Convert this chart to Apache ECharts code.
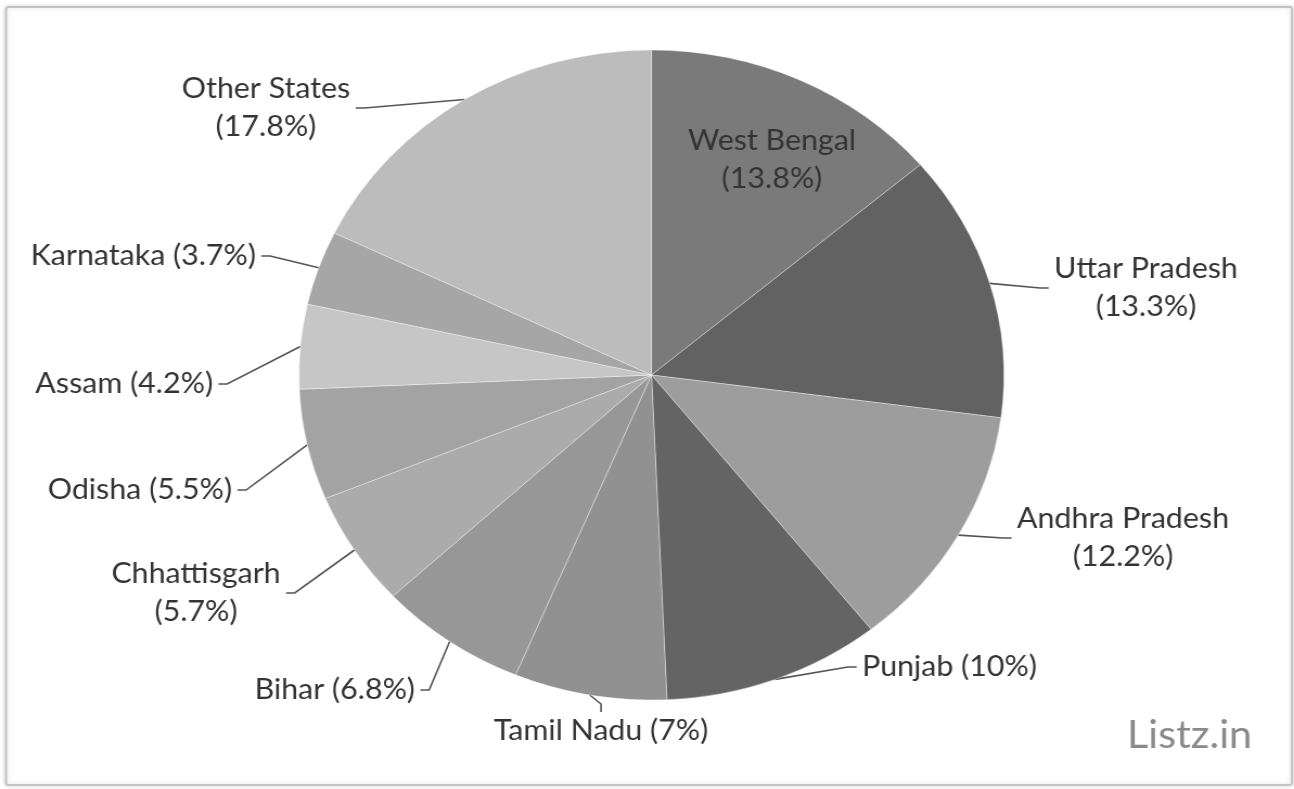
<!DOCTYPE html>
<html>
<head>
<meta charset="utf-8">
<script src="https://cdn.jsdelivr.net/npm/echarts@6/dist/echarts.min.js"></script>
<style>
  html, body { margin: 0; padding: 0; background: #ffffff; }
  #wrap { width: 1294px; height: 789px; overflow: hidden; position: relative; background: #ffffff; }
  #chart { width: 1193px; height: 789px; transform: scaleX(1.0847); transform-origin: 0 0; }
</style>
</head>
<body>
<div id="wrap"><div id="chart"></div></div>
<script>
// ---- data ----
const categories = ['West Bengal', 'Uttar Pradesh', 'Andhra Pradesh', 'Punjab', 'Tamil Nadu', 'Bihar',
  'Chhattisgarh', 'Odisha', 'Assam', 'Karnataka', 'Other States'];
const shares = [13.8, 13.3, 12.2, 10, 7, 6.8, 5.7, 5.5, 4.2, 3.7, 17.8];
const watermark = 'Listz.in';

// ---- style / layout (not data) ----
const SX = 1.0847; // horizontal stretch of the picture
const PAD = 5;
const sliceColors = ['#7a7a7a', '#626262', '#9d9d9d', '#646464', '#919191', '#979797',
  '#ababab', '#a3a3a3', '#c6c6c6', '#a6a6a6', '#bcbcbc'];
const twoLine = ['West Bengal', 'Uttar Pradesh', 'Andhra Pradesh', 'Chhattisgarh', 'Other States'];
// label anchor spots in picture pixels [x, y, align]
const labelSpots = [
  [772, 160, 'center'], [1146, 288, 'center'], [1123, 538, 'center'], [862, 667, 'left'],
  [601, 731, 'center'], [415, 690, 'right'], [196, 593, 'center'], [232, 490, 'right'],
  [213, 384, 'right'], [256, 256, 'right'], [266, 108, 'center']
];

const chart = echarts.init(document.getElementById('chart'), null, { renderer: 'canvas' });
const FONT = 'Lato, "Open Sans", sans-serif';

const pieData = categories.map((name, i) => ({
  name: name,
  value: shares[i],
  itemStyle: { color: sliceColors[i] },
  label: { formatter: twoLine.indexOf(name) >= 0 ? '{b}\n({c}%)' : '{b} ({c}%)' },
  labelLine: { show: name !== 'West Bengal' }
}));

chart.setOption({
  backgroundColor: '#ffffff',
  animation: false,
  graphic: [
    {
      type: 'rect', silent: true, z: -10,
      shape: { x: 6 / SX, y: 7, width: (1292 - 6) / SX, height: 778, r: 2 },
      style: { fill: '#ffffff', stroke: '#c4c4c4', lineWidth: 2,
        shadowBlur: 4, shadowColor: 'rgba(0,0,0,0.15)' }
    },
    {
      type: 'text', silent: true, z: 10,
      x: 1252 / SX, y: 736,
      style: { text: watermark, fill: '#8a8a8a', font: '38px ' + FONT, align: 'right', verticalAlign: 'middle' }
    }
  ],
  series: [{
    type: 'pie',
    center: [651.5 / SX, 375],
    radius: 325,
    startAngle: 90,
    clockwise: true,
    avoidLabelOverlap: false,
    data: pieData,
    itemStyle: { borderColor: 'rgba(255,255,255,0.35)', borderWidth: 1 },
    label: {
      show: true,
      position: 'outside',
      color: '#333333',
      fontFamily: FONT,
      fontSize: 28,
      lineHeight: 38,
      padding: [0, PAD]
    },
    labelLine: {
      show: true,
      length: 20,
      length2: 8,
      lineStyle: { color: '#555555', width: 1.6 }
    },
    labelLayout: function (p) {
      const s = labelSpots[p.dataIndex];
      const shift = s[2] === 'right' ? PAD : (s[2] === 'left' ? -PAD : 0);
      return { x: s[0] / SX + shift, y: s[1], align: s[2], verticalAlign: 'middle' };
    },
    emphasis: { disabled: true }
  }]
});
</script>
</body>
</html>
